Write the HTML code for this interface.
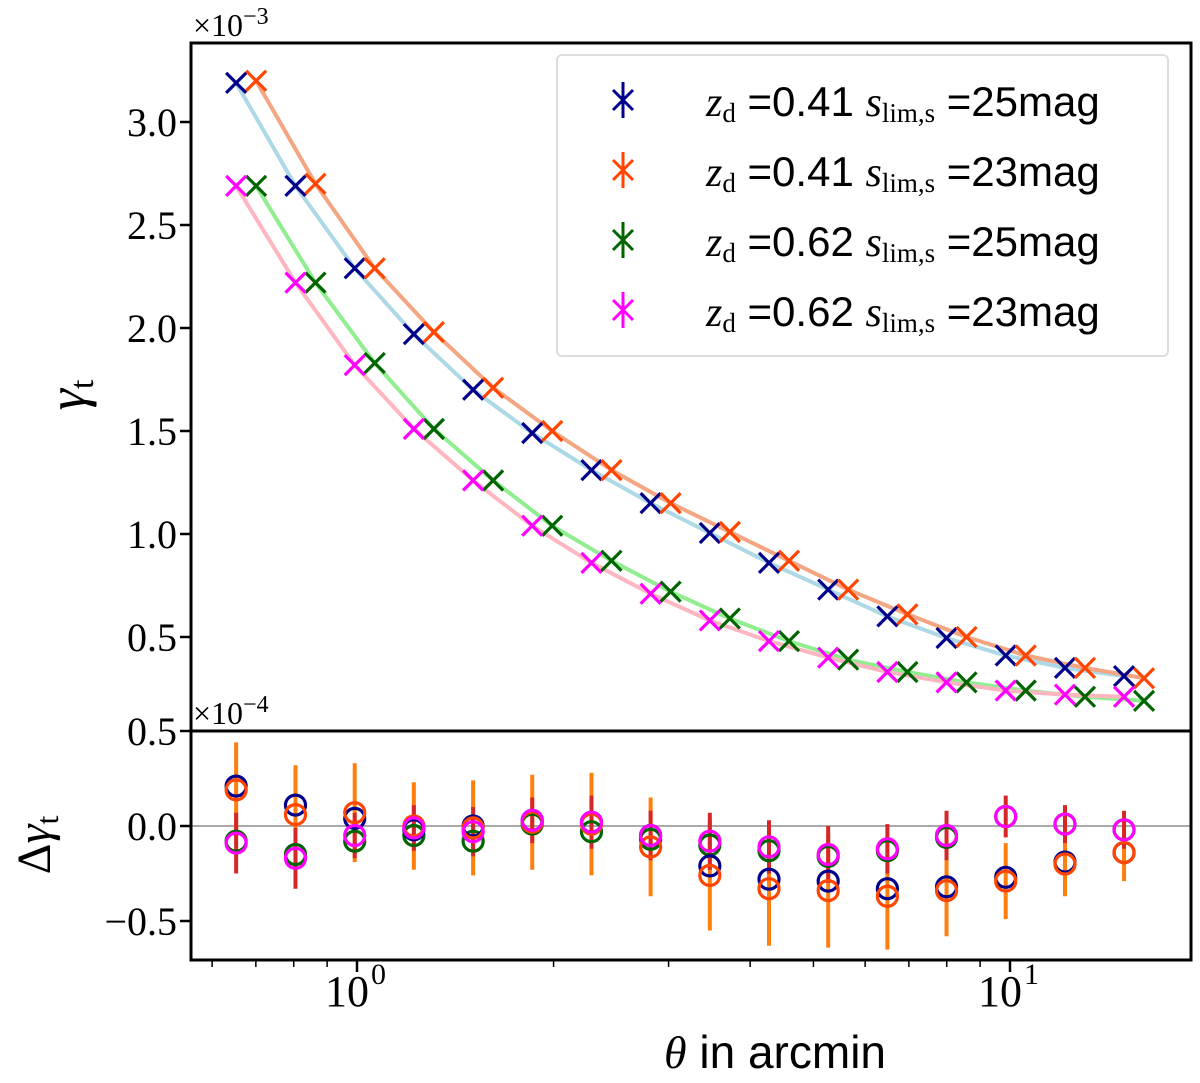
<!DOCTYPE html>
<html><head><meta charset="utf-8"><style>
html,body{margin:0;padding:0;background:#fff;}
svg{display:block;}
.serif{font-family:"Liberation Serif","DejaVu Serif",serif;}
.sans{font-family:"Liberation Sans","DejaVu Sans",sans-serif;}
</style></head><body>
<svg id="chart" width="1200" height="1083" viewBox="0 0 1200 1083" xmlns="http://www.w3.org/2000/svg">
<g id="plot"></g>
</svg>
<script>
const theta = [0.653,0.805,0.992,1.222,1.506,1.855,2.286,2.816,3.47,4.275,5.267,6.49,7.995,9.85,12.14,14.95];
const gammaBlue = [3.19,2.69,2.29,1.97,1.70,1.49,1.31,1.15,1.005,0.86,0.73,0.60,0.495,0.41,0.35,0.31];
const gammaOrange = [3.20,2.70,2.29,1.98,1.71,1.50,1.31,1.15,1.01,0.87,0.73,0.61,0.50,0.41,0.35,0.30];
const gammaGreen = [2.69,2.22,1.83,1.51,1.26,1.04,0.87,0.72,0.59,0.48,0.39,0.33,0.28,0.24,0.21,0.19];
const gammaMagenta = [2.69,2.22,1.82,1.51,1.26,1.04,0.86,0.71,0.58,0.48,0.40,0.33,0.28,0.24,0.22,0.21];
const dBlue = [0.21,0.11,0.04,-0.02,0.0,0.03,0.02,-0.05,-0.21,-0.28,-0.29,-0.33,-0.32,-0.27,-0.19,-0.14];
const dOrange = [0.19,0.06,0.07,0.0,-0.01,0.02,0.01,-0.11,-0.26,-0.33,-0.34,-0.37,-0.34,-0.29,-0.20,-0.14];
const dGreen = [-0.08,-0.15,-0.08,-0.05,-0.08,0.01,-0.03,-0.07,-0.10,-0.13,-0.16,-0.13,-0.06,0.05,0.01,-0.02];
const dMagenta = [-0.09,-0.17,-0.05,-0.01,-0.03,0.03,0.02,-0.05,-0.08,-0.11,-0.15,-0.12,-0.05,0.05,0.01,-0.02];
const errOrange = [0.25,0.26,0.26,0.23,0.25,0.25,0.27,0.26,0.29,0.30,0.30,0.28,0.24,0.20,0.17,0.15];
const errRed = [0.16,0.16,0.12,0.12,0.13,0.12,0.14,0.13,0.15,0.14,0.15,0.13,0.13,0.11,0.10,0.10];
const topTicks = [0.5,1.0,1.5,2.0,2.5,3.0];
const topTickLabels = ["0.5","1.0","1.5","2.0","2.5","3.0"];
const botTicks = [-0.5,0.0,0.5];
const botTickLabels = ["\u22120.5","0.0","0.5"];

const NS="http://www.w3.org/2000/svg";
const g=document.getElementById('plot');
const L=191,R=1191,T=43,MID=731,B=960;
const xs=t=>357+653*Math.log10(t);
const xsShift=t=>xs(t)+20;
const yTop=v=>122+(3.0-v)*206;
const yBot=v=>826-v*190;
function el(tag,attrs,parent){const e=document.createElementNS(NS,tag);for(const k in attrs)e.setAttribute(k,attrs[k]);(parent||g).appendChild(e);return e;}

const curves=[[gammaBlue,xs,'#add8e6','curve-blue'],[gammaOrange,xsShift,'#f4a582','curve-orange'],[gammaGreen,xsShift,'#90ee90','curve-green'],[gammaMagenta,xs,'#ffb6c1','curve-magenta']];
curves.forEach(([arr,fx,c,nm])=>{
  const p=el('polyline',{points:arr.map((v,i)=>fx(theta[i]).toFixed(1)+','+yTop(v).toFixed(1)).join(' '),fill:'none',stroke:c,'stroke-width':4});
  
  
});
function cross(x,y,c,s,parent){
  const gg=el('g',{},parent);
  el('line',{x1:x-s,y1:y-s,x2:x+s,y2:y+s,stroke:c,'stroke-width':3.2},gg);
  el('line',{x1:x-s,y1:y+s,x2:x+s,y2:y-s,stroke:c,'stroke-width':3.2},gg);
  return gg;
}
const pts=[[gammaBlue,xs,'#00008b','point-blue'],[gammaOrange,xsShift,'#ff4500','point-orange'],[gammaGreen,xsShift,'#006400','point-green'],[gammaMagenta,xs,'#ff00ff','point-magenta']];
pts.forEach(([arr,fx,c,nm])=>{
  arr.forEach((v,i)=>{
    const m=cross(fx(theta[i]),yTop(v),c,10);
    
    
  });
});

const zl=el('line',{x1:L,x2:R,y1:yBot(0),y2:yBot(0),stroke:'#aaa','stroke-width':2});


theta.forEach((t,i)=>{
  const x=xs(t);
  const eo=el('line',{x1:x,x2:x,y1:yBot(dOrange[i]+errOrange[i]),y2:yBot(dOrange[i]-errOrange[i]),stroke:'#ff7f0e','stroke-width':4});
  
  
  const er=el('line',{x1:x,x2:x,y1:yBot(dMagenta[i]+errRed[i]),y2:yBot(dMagenta[i]-errRed[i]),stroke:'#d62728','stroke-width':4});
  
  
});
const circ=[[dGreen,'#006400','circle-green'],[dBlue,'#00008b','circle-blue'],[dOrange,'#ff4500','circle-orange'],[dMagenta,'#ff00ff','circle-magenta']];
circ.forEach(([arr,c,nm])=>{
  arr.forEach((v,i)=>{
    const ci=el('circle',{cx:xs(theta[i]),cy:yBot(v),r:10,fill:'none',stroke:c,'stroke-width':3.2});
    
    
  });
});

el('rect',{x:L,y:T,width:R-L,height:MID-T,fill:'none',stroke:'#000','stroke-width':3});
el('rect',{x:L,y:MID,width:R-L,height:B-MID,fill:'none',stroke:'#000','stroke-width':3});

topTicks.forEach((v,i)=>{
  const y=yTop(v);
  el('line',{x1:L-11,x2:L,y1:y,y2:y,stroke:'#000','stroke-width':2.5});
  const tx=el('text',{x:L-14,y:y+14,'text-anchor':'end','font-size':40,class:'serif'});
  tx.textContent=topTickLabels[i];
  
  
});
botTicks.forEach((v,i)=>{
  const y=yBot(v);
  el('line',{x1:L-11,x2:L,y1:y,y2:y,stroke:'#000','stroke-width':2.5});
  const tx=el('text',{x:L-14,y:y+14,'text-anchor':'end','font-size':40,class:'serif'});
  tx.textContent=botTickLabels[i];
  
  
});
[0.6,0.7,0.8,0.9,1,2,3,4,5,6,7,8,9,10].forEach(t=>{
  const x=xs(t);const major=(t===1||t===10);
  el('line',{x1:x,x2:x,y1:B,y2:B+(major?12:7),stroke:'#000','stroke-width':major?2.5:1.5});
});
[[1,'0'],[10,'1']].forEach(([t,e])=>{
  const tx=el('text',{x:xs(t)-10,y:1006,'text-anchor':'middle','font-size':44,class:'serif'});
  tx.textContent='10';
  
  
  const s=el('text',{x:xs(t)+14,y:984,'font-size':30,class:'serif'});s.textContent=e;
});
</script>
<svg width="1200" height="1083" style="position:absolute;left:0;top:0" xmlns="http://www.w3.org/2000/svg">
<text x="193" y="36" font-size="32" class="serif">×10<tspan font-size="24" dy="-12">−3</tspan></text>
<text x="193" y="724" font-size="32" class="serif">×10<tspan font-size="24" dy="-12">−4</tspan></text>
<g transform="translate(85,395) rotate(-90)"><text text-anchor="middle" font-size="54" font-style="italic" class="serif">γ<tspan font-size="34" font-style="normal" dy="8">t</tspan></text></g>
<g transform="translate(50,845) rotate(-90)"><text text-anchor="middle" font-size="48" class="serif">Δ<tspan font-style="italic">γ</tspan><tspan font-size="32" dy="8">t</tspan></text></g>
<text x="775" y="1068" text-anchor="middle" font-size="46" class="sans"><tspan font-style="italic" class="serif">θ</tspan> in arcmin</text>
<g>
<rect x="557" y="55" width="611" height="301" rx="5" fill="#fff" stroke="#ddd" stroke-width="2"/>
<g><line x1="623" x2="623" y1="82" y2="118" stroke="#00008b" stroke-width="3"/><line x1="613" y1="90" x2="633" y2="110" stroke="#00008b" stroke-width="3"/><line x1="613" y1="110" x2="633" y2="90" stroke="#00008b" stroke-width="3"/>
<text x="706" y="116" font-size="42" class="sans"><tspan class="serif" font-style="italic">z</tspan><tspan class="serif" font-size="27" dy="6">d</tspan><tspan dy="-6"> =0.41 </tspan><tspan class="serif" font-style="italic">s</tspan><tspan class="serif" font-size="27" dy="6">lim,s</tspan><tspan dy="-6"> =25mag</tspan></text></g>
<g><line x1="623" x2="623" y1="152" y2="188" stroke="#ff4500" stroke-width="3"/><line x1="613" y1="160" x2="633" y2="180" stroke="#ff4500" stroke-width="3"/><line x1="613" y1="180" x2="633" y2="160" stroke="#ff4500" stroke-width="3"/>
<text x="706" y="186" font-size="42" class="sans"><tspan class="serif" font-style="italic">z</tspan><tspan class="serif" font-size="27" dy="6">d</tspan><tspan dy="-6"> =0.41 </tspan><tspan class="serif" font-style="italic">s</tspan><tspan class="serif" font-size="27" dy="6">lim,s</tspan><tspan dy="-6"> =23mag</tspan></text></g>
<g><line x1="623" x2="623" y1="222" y2="258" stroke="#006400" stroke-width="3"/><line x1="613" y1="230" x2="633" y2="250" stroke="#006400" stroke-width="3"/><line x1="613" y1="250" x2="633" y2="230" stroke="#006400" stroke-width="3"/>
<text x="706" y="256" font-size="42" class="sans"><tspan class="serif" font-style="italic">z</tspan><tspan class="serif" font-size="27" dy="6">d</tspan><tspan dy="-6"> =0.62 </tspan><tspan class="serif" font-style="italic">s</tspan><tspan class="serif" font-size="27" dy="6">lim,s</tspan><tspan dy="-6"> =25mag</tspan></text></g>
<g><line x1="623" x2="623" y1="292" y2="328" stroke="#ff00ff" stroke-width="3"/><line x1="613" y1="300" x2="633" y2="320" stroke="#ff00ff" stroke-width="3"/><line x1="613" y1="320" x2="633" y2="300" stroke="#ff00ff" stroke-width="3"/>
<text x="706" y="326" font-size="42" class="sans"><tspan class="serif" font-style="italic">z</tspan><tspan class="serif" font-size="27" dy="6">d</tspan><tspan dy="-6"> =0.62 </tspan><tspan class="serif" font-style="italic">s</tspan><tspan class="serif" font-size="27" dy="6">lim,s</tspan><tspan dy="-6"> =23mag</tspan></text></g>
</g>
</svg>
</body></html>
